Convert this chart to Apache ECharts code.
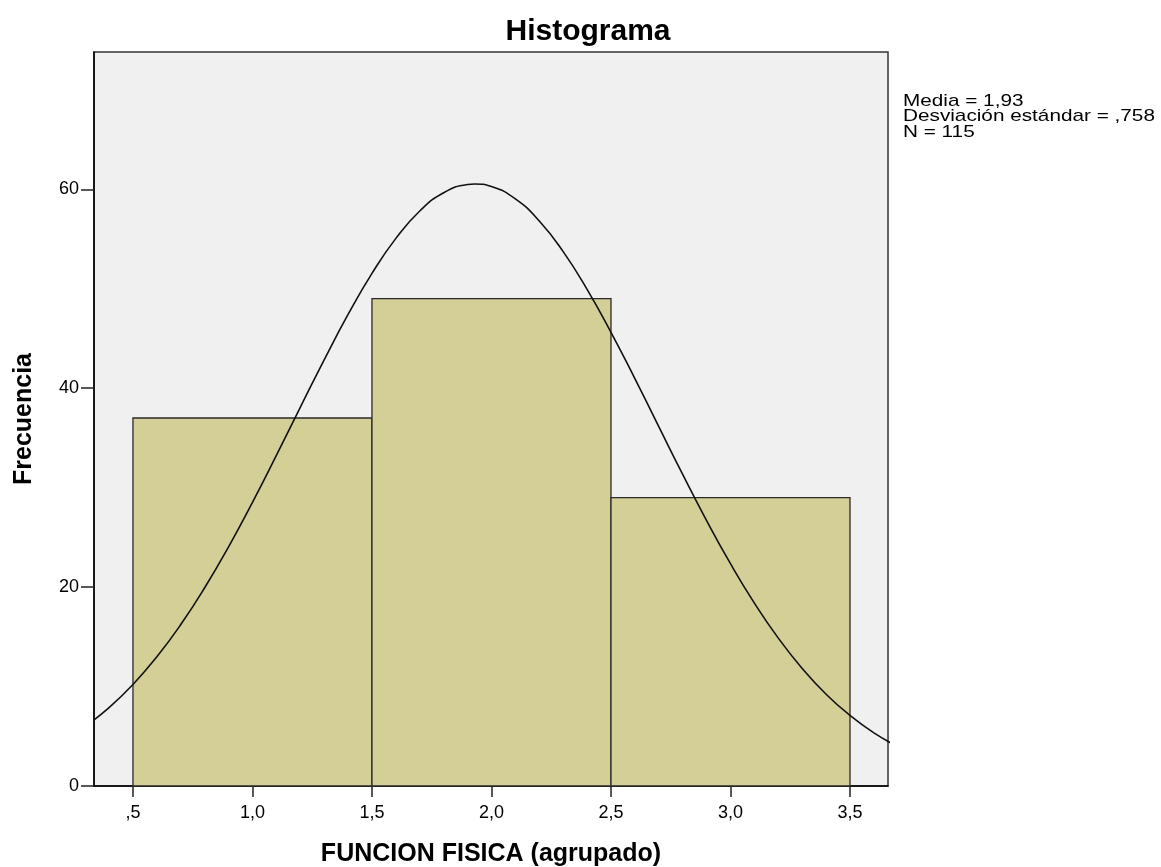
<!DOCTYPE html>
<html><head><meta charset="utf-8">
<script src="https://cdn.jsdelivr.net/npm/echarts@6/dist/echarts.min.js"></script>
<style>html,body{margin:0;padding:0;background:#fff}#c{width:1161px;height:867px}</style>
</head><body><div id="c"></div>
<script>
// Histogram bins: [start, end, frequency]
const binStarts = [0.5, 1.5, 2.5];
const binEnds = [1.5, 2.5, 3.5];
const frequencies = [37, 49, 29];
// Normal curve points
const curveX = [0.3,0.4,0.5,0.6,0.7,0.8,0.9,1.0,1.1,1.2,1.3,1.4,1.5,1.6,1.7,1.8,1.9,1.93,2.0,2.1,2.2,2.3,2.4,2.5,2.6,2.7,2.8,2.9,3.0,3.1,3.2,3.3,3.4,3.5,3.6,3.7];
const curveY = [5.99,7.89,10.21,12.99,16.23,19.93,24.05,28.52,33.24,38.07,42.85,47.41,51.54,55.06,57.81,59.65,60.48,60.53,60.27,59.03,56.81,53.73,49.94,45.62,40.96,36.13,31.33,26.69,22.35,18.39,14.87,11.82,9.23,7.09,5.34,3.96];
const xTicks = [0.5, 1.0, 1.5, 2.0, 2.5, 3.0, 3.5];
const xTickLabels = [',5', '1,0', '1,5', '2,0', '2,5', '3,0', '3,5'];
const yTicks = [0, 20, 40, 60];
const statsLines = ['Media = 1,93', 'Desviación estándar = ,758', 'N = 115'];

const font = 'Arial, "Liberation Sans", Helvetica, sans-serif';
const chart = echarts.init(document.getElementById('c'));
const binData = binStarts.map((s, i) => [s, binEnds[i], frequencies[i]]);
const curveData = curveX.map((x, i) => [x, curveY[i]]);

const statsGraphics = statsLines.map((t, i) => ({
  type: 'text', x: 903, y: 101 + i * 15.5, scaleX: 1.22, scaleY: 1,
  style: { text: t, font: '17px ' + font, fill: '#000', textVerticalAlign: 'middle', textAlign: 'left' }
}));

chart.setOption({
  animation: false,
  backgroundColor: '#ffffff',
  graphic: [{
    type: 'text', x: 588, y: 32,
    style: { text: 'Histograma', font: 'bold 30px ' + font, fill: '#000', textAlign: 'center', textVerticalAlign: 'middle' }
  }].concat(statsGraphics),
  grid: {
    left: 94, right: 273, top: 52, bottom: 81, outerBoundsMode: 'none', containLabel: false,
    show: true, backgroundColor: '#f0f0f0', borderColor: '#333', borderWidth: 1.5
  },
  xAxis: {
    type: 'value', min: 0.337, max: 3.659,
    name: 'FUNCION FISICA (agrupado)', nameLocation: 'middle', nameGap: 56,
    nameTextStyle: { fontFamily: font, fontSize: 25, fontWeight: 'bold', color: '#000' },
    axisLine: { show: true, lineStyle: { color: '#000', width: 1.5 } },
    axisTick: { show: true, length: 11, customValues: xTicks, lineStyle: { color: '#222', width: 1.5 } },
    axisLabel: {
      customValues: xTicks, fontFamily: font, fontSize: 18, color: '#000', margin: 18,
      formatter: v => { const i = xTicks.findIndex(t => Math.abs(t - v) < 1e-6); return i >= 0 ? xTickLabels[i] : ''; }
    },
    splitLine: { show: false }
  },
  yAxis: {
    type: 'value', min: 0, max: 73.8,
    name: 'Frecuencia', nameLocation: 'middle', nameGap: 57,
    nameTextStyle: { fontFamily: font, fontSize: 25, fontWeight: 'bold', color: '#000' },
    axisLine: { show: true, lineStyle: { color: '#000', width: 1.5 } },
    axisTick: { show: true, length: 13, customValues: yTicks, lineStyle: { color: '#222', width: 1.5 } },
    axisLabel: { customValues: yTicks, fontFamily: font, fontSize: 18, color: '#000', margin: 15, padding: [4, 0, 0, 0] },
    splitLine: { show: false }
  },
  series: [
    {
      type: 'custom',
      data: binData,
      encode: { x: [0, 1], y: 2 },
      renderItem: function (params, api) {
        const p0 = api.coord([api.value(0), api.value(2)]);
        const p1 = api.coord([api.value(1), 0]);
        return {
          type: 'rect',
          shape: { x: p0[0], y: p0[1], width: p1[0] - p0[0], height: p1[1] - p0[1] },
          style: { fill: '#d3cf97', stroke: '#2a2a2a', lineWidth: 1.3 }
        };
      },
      z: 2
    },
    {
      type: 'line', data: curveData, smooth: true, showSymbol: false, clip: true,
      lineStyle: { color: '#111', width: 1.6 }, z: 3
    }
  ]
});
</script>
</body></html>
